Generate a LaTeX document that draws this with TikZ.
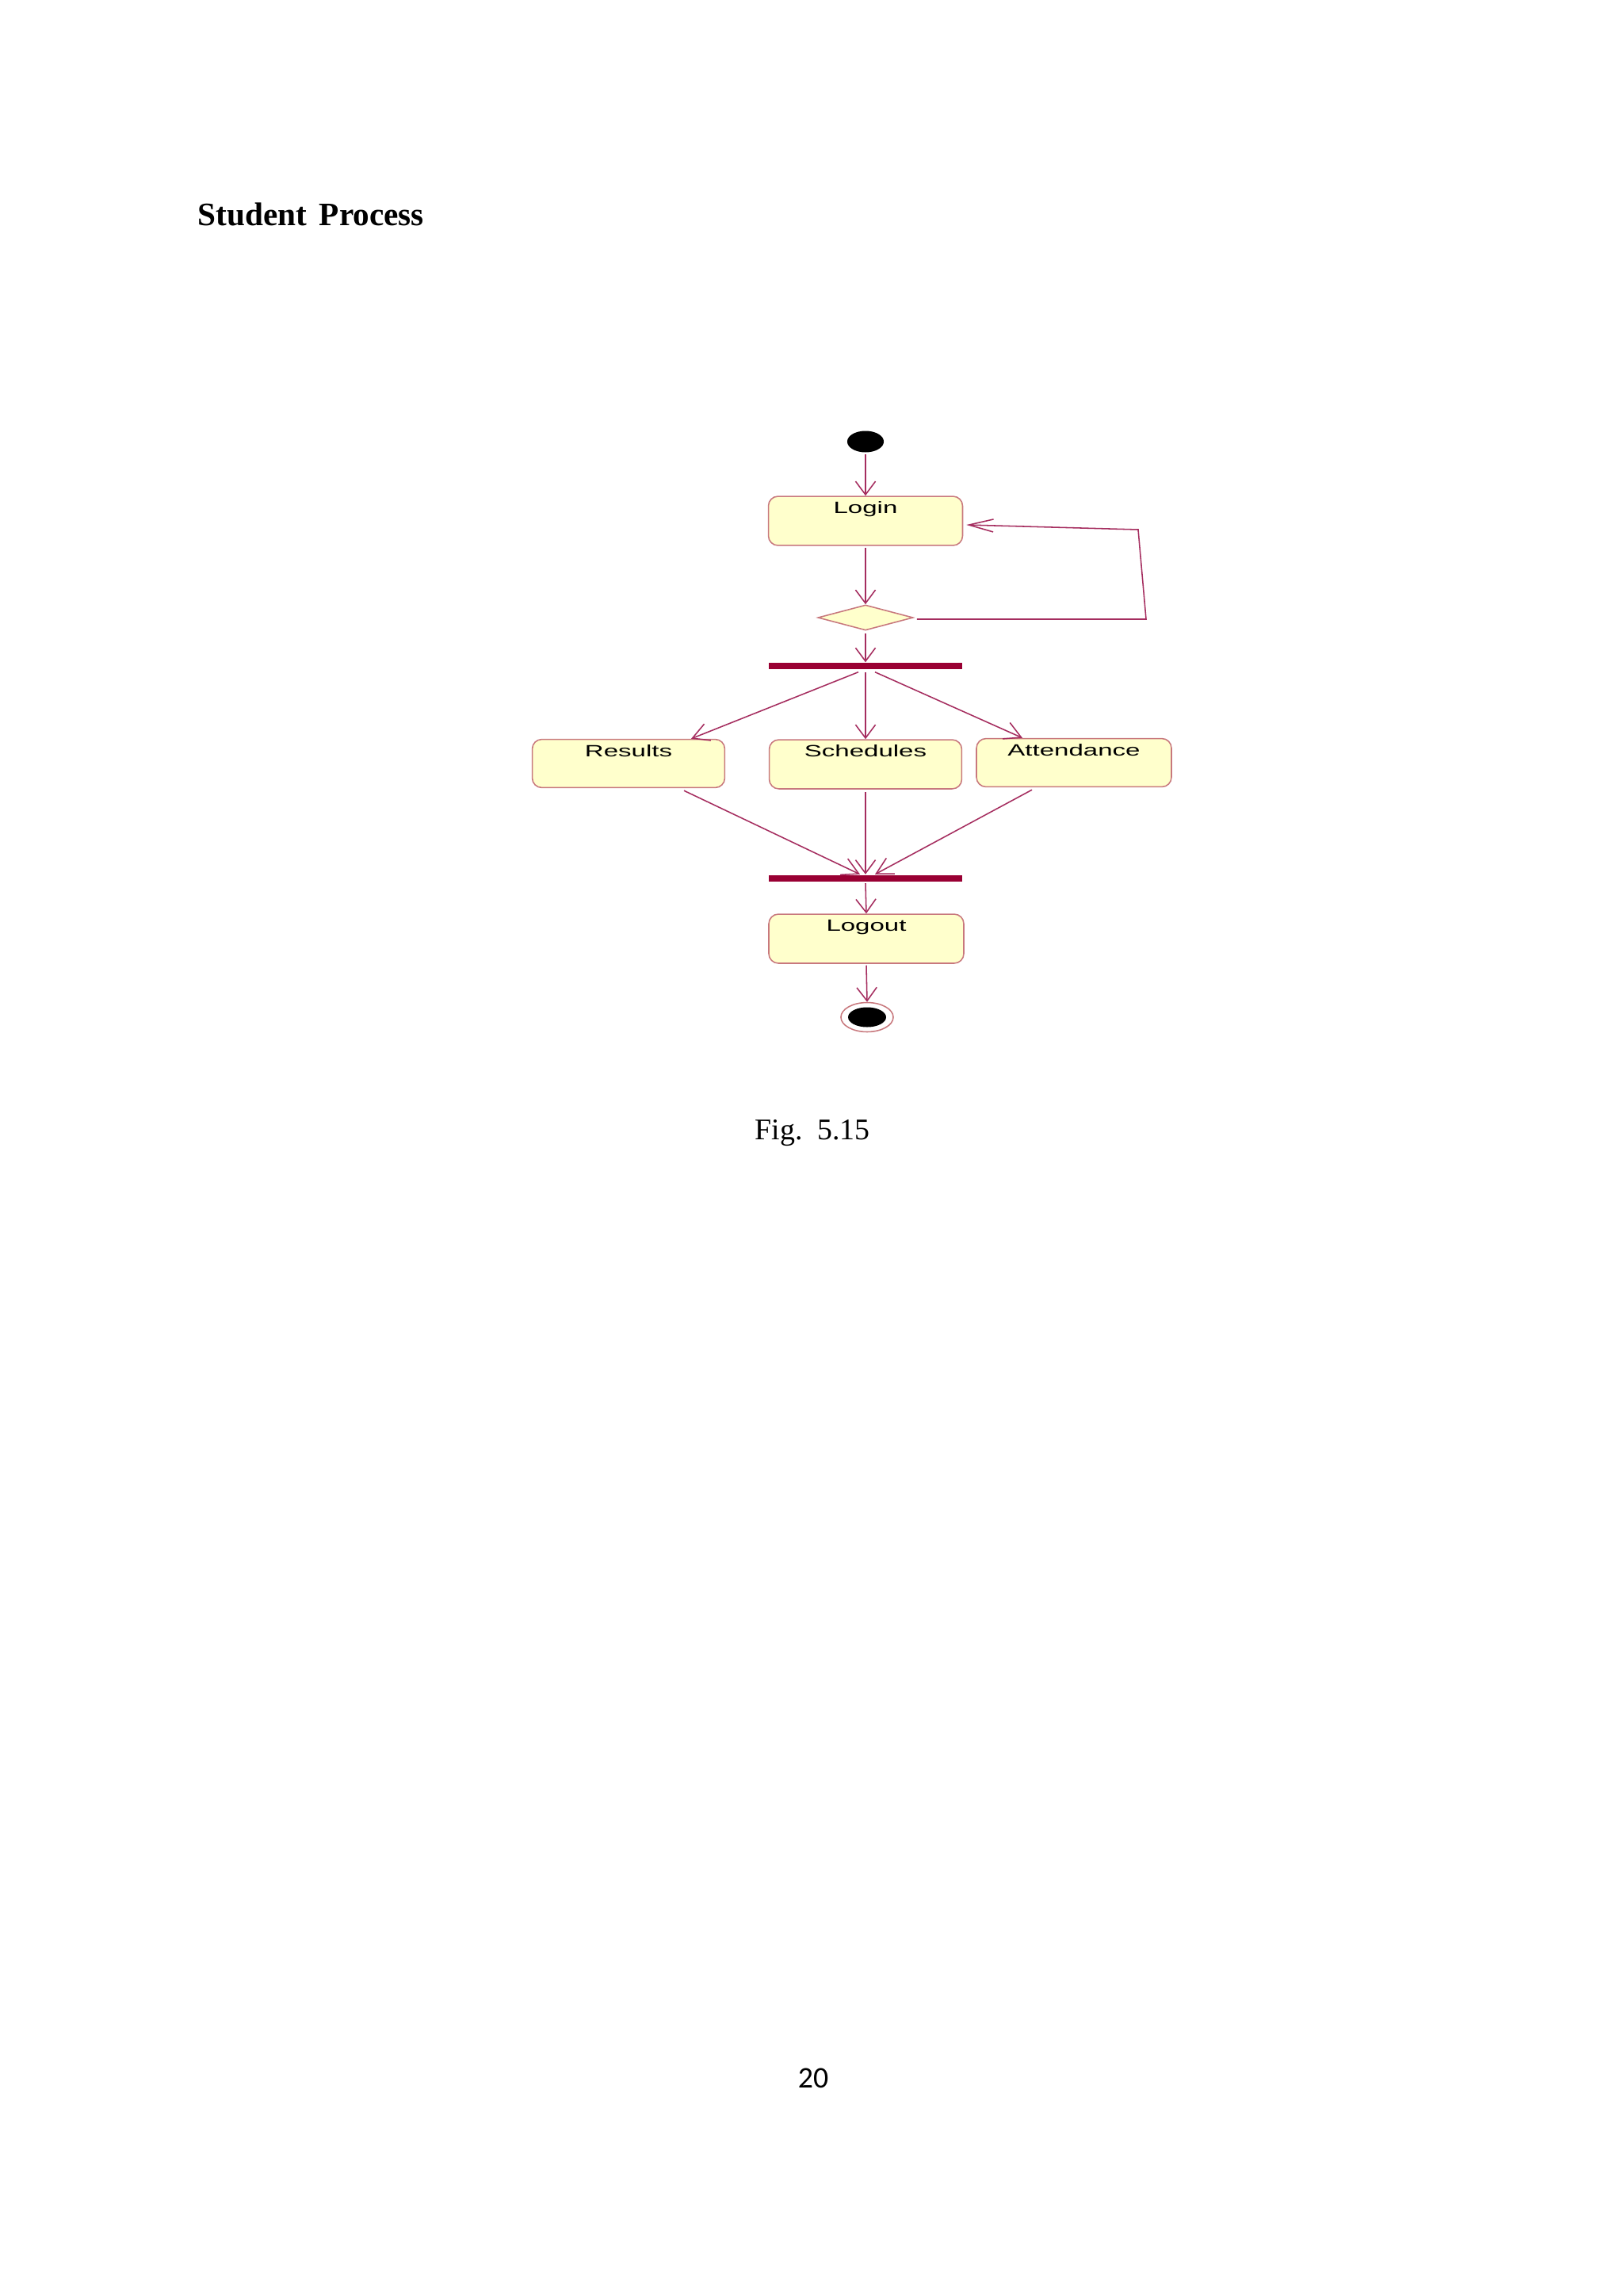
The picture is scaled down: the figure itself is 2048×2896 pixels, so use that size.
\documentclass[tikz,border=0pt]{standalone}
\usepackage{fontspec}
\setmainfont{Liberation Serif}
\newfontfamily\diagfont{Liberation Sans}
\newfontfamily\pagefont{Carlito}
\usetikzlibrary{arrows.meta,shapes.geometric}
\definecolor{linecol}{RGB}{165,45,95}
\definecolor{boxline}{RGB}{200,120,125}
\definecolor{boxfill}{RGB}{255,255,204}
\definecolor{barcol}{RGB}{153,0,51}
\newcommand{\dtext}[1]{\scalebox{1.6}[1]{\diagfont\fontsize{6}{7}\selectfont #1}}
\begin{document}
\begin{tikzpicture}[x=0.29067pt,y=-0.29067pt,
  actbox/.style={draw=boxline,fill=boxfill,line width=0.45pt,rounded corners=3.5pt,
    rectangle,inner sep=0pt,minimum width=71.2pt,minimum height=18pt},
  acttext/.style={anchor=north,inner sep=0pt,yshift=-2pt},
  syncbar/.style={fill=barcol,rectangle,inner sep=0pt,minimum width=71.2pt,minimum height=2.33pt},
  flow/.style={draw=linecol,line width=0.45pt,-{Straight Barb[length=4.9pt,width=7.3pt]}},
  flowdiag/.style={draw=linecol,line width=0.45pt,-{Straight Barb[length=6pt,width=6.5pt]}},
  flowhor/.style={draw=linecol,line width=0.45pt,-{Straight Barb[length=9pt,width=4.65pt]}}]
\useasboundingbox[fill=white] (0,0) rectangle (2048,2896);

% title
\node[anchor=base west,inner sep=0pt,font=\fontsize{12}{14}\selectfont\bfseries] (title) at (249,284) {Student\hspace{1.5pt} Process};

% start
\node[ellipse,fill=black,inner sep=0pt,minimum width=13.4pt,minimum height=7.85pt] (start) at (1092,557) {};

% login
\node[actbox] (login) at (1092,657) {};
\node[acttext] (logintxt) at (login.north) {\dtext{Login}};

% decision
\node[diamond,draw=boxline,fill=boxfill,line width=0.45pt,inner sep=0pt,
  minimum width=34.9pt,minimum height=9.3pt] (dia) at (1092,779) {};

% fork bar
\node[syncbar] (bar1) at (1092,840) {};

% three activities
\node[actbox,minimum width=70.6pt,minimum height=17.7pt] (results) at (793,963) {};
\node[acttext] (resultstxt) at (results.north) {\dtext{Results}};
\node[actbox,minimum width=70.6pt] (sched) at (1092,964) {};
\node[acttext] (schedtxt) at (sched.north) {\dtext{Schedules}};
\node[actbox,minimum width=71.5pt,minimum height=17.7pt] (attend) at (1355,962) {};
\node[acttext] (attendtxt) at (attend.north) {\dtext{Attendance}};

% join bar
\node[syncbar] (bar2) at (1092,1107.5) {};

% logout
\node[actbox,minimum width=71.5pt] (logout) at (1093,1184) {};
\node[acttext] (logouttxt) at (logout.north) {\dtext{Logout}};

% end
\node[ellipse,draw=boxline,line width=0.45pt,fill=white,inner sep=0pt,minimum width=19.2pt,minimum height=10.75pt] (endo) at (1094,1283) {};
\node[ellipse,fill=black,inner sep=0pt,minimum width=13.95pt,minimum height=7.27pt] (endi) at (1094,1283) {};

% connectors
\draw[flow] ([shift={(0,2)}]start.south) -- (login.north);
\draw[flow] ([shift={(0,2)}]login.south) -- (dia.north);
\draw[flow] ([shift={(0,3)}]dia.south) -- (bar1.north);

\coordinate (loopa) at (1446,781);
\coordinate (loopb) at (1436,668);
\draw[flowhor] ([shift={(4,2)}]dia.east) -- (loopa) -- (loopb) -- ([shift={(4,5)}]login.east);

\draw[flowdiag] ([shift={(-9,3)}]bar1.south) -- ([shift={(79,0)}]results.north);
\draw[flow] ([shift={(0,3)}]bar1.south) -- (sched.north);
\draw[flowdiag] ([shift={(12,3)}]bar1.south) -- ([shift={(-65,0)}]attend.north);

\draw[flowdiag] ([shift={(70,3)}]results.south) -- ([shift={(-7,0)}]bar2.north);
\draw[flow] ([shift={(0,3)}]sched.south) -- (bar2.north);
\draw[flowdiag] ([shift={(-53,3)}]attend.south) -- ([shift={(12,0)}]bar2.north);

\draw[flow] ([shift={(0,2)}]bar2.south) -- (logout.north);
\draw[flow] ([shift={(0,2)}]logout.south) -- (endo.north);

% caption and page number
\node[anchor=base west,inner sep=0pt,font=\fontsize{11}{13}\selectfont] (caption) at (952,1437) {Fig.\ \ 5.15};
\node[anchor=base,inner sep=0pt,font=\pagefont\fontsize{11}{13}\selectfont] (pagenum) at (1026,2633) {20};
\end{tikzpicture}
\end{document}
